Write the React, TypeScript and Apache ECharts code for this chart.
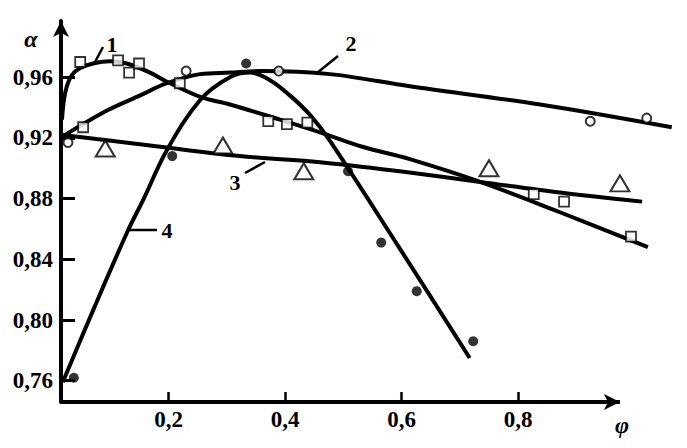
import React, { useEffect, useRef } from "react";
import * as echarts from "echarts";

// Axis tick values
const yTicks = [0.76, 0.8, 0.84, 0.88, 0.92, 0.96];
const xTicks = [0.2, 0.4, 0.6, 0.8];
const xAxisStart = 0.015;
const xAxisEnd = 0.975;
const yAxisStart = 0.746;

// Fitted curves
const curve1: number[][] = [
  [0.0167, 0.932], [0.020, 0.945], [0.025, 0.954], [0.034, 0.9615], [0.048, 0.966],
  [0.070, 0.969], [0.099, 0.9705], [0.128, 0.969], [0.168, 0.963], [0.197, 0.957],
  [0.254, 0.947], [0.305, 0.942], [0.391, 0.932], [0.465, 0.923], [0.534, 0.914],
  [0.614, 0.906], [0.735, 0.891], [0.872, 0.871], [1.023, 0.848],
];
const curve2: number[][] = [
  [0.018, 0.921], [0.094, 0.938], [0.151, 0.948], [0.197, 0.956], [0.254, 0.962],
  [0.305, 0.963], [0.357, 0.964], [0.477, 0.962], [0.614, 0.954], [0.838, 0.942],
  [1.064, 0.927],
];
const curve3: number[][] = [
  [0.015, 0.922], [0.168, 0.915], [0.322, 0.908], [0.46, 0.904], [0.597, 0.898],
  [0.735, 0.891], [0.872, 0.884], [1.013, 0.878],
];
const curve4: number[][] = [
  [0.018, 0.759], [0.073, 0.809], [0.13, 0.859], [0.156, 0.879], [0.197, 0.912],
  [0.254, 0.945], [0.305, 0.96], [0.34, 0.963], [0.374, 0.958], [0.408, 0.948],
  [0.443, 0.935], [0.477, 0.918], [0.597, 0.847], [0.717, 0.775],
];

// Experimental points
const squares: number[][] = [
  [0.048, 0.970], [0.053, 0.927], [0.113, 0.971], [0.132, 0.963], [0.149, 0.969],
  [0.219, 0.956], [0.371, 0.931], [0.403, 0.929], [0.438, 0.930], [0.827, 0.883],
  [0.879, 0.878], [0.994, 0.855],
];
const circles: number[][] = [
  [0.027, 0.917], [0.230, 0.964], [0.389, 0.964], [0.924, 0.931], [1.021, 0.933],
];
const triangles: number[][] = [
  [0.091, 0.913], [0.293, 0.915], [0.432, 0.898], [0.750, 0.900], [0.975, 0.890],
];
const dots: number[][] = [
  [0.037, 0.762], [0.206, 0.908], [0.333, 0.969], [0.508, 0.898], [0.565, 0.851],
  [0.626, 0.819], [0.723, 0.786],
];

const FONT = '"Liberation Serif", "Times New Roman", serif';

export default function App() {
  const ref = useRef<HTMLDivElement>(null);
  useEffect(() => {
    if (!ref.current) return;
    const chart = echarts.init(ref.current, undefined, { renderer: "svg" });
    const lineSeries = (data: number[][]) => ({
      type: "line",
      data,
      showSymbol: false,
      smooth: 0.35,
      clip: false,
      lineStyle: { color: "#000", width: 4 },
      z: 2,
    });
    const textEl = (x: number, y: number, text: string, italic = false, size = 22) => ({
      type: "text",
      x,
      y,
      style: {
        text,
        font: `${italic ? "italic " : ""}bold ${size}px ${FONT}`,
        fill: "#000",
        align: "center",
        verticalAlign: "middle",
      },
    });
    const leader = (x1: number, y1: number, x2: number, y2: number) => ({
      type: "line",
      shape: { x1, y1, x2, y2 },
      style: { stroke: "#000", lineWidth: 2.5 },
    });
    const option: any = {
      animation: false,
      backgroundColor: "#fff",
      grid: { left: 61, right: 10, top: 21, bottom: 46, containLabel: false },
      xAxis: {
        type: "value",
        min: xAxisStart,
        max: 1.073,
        splitLine: { show: false },
        axisLine: { show: false },
        axisTick: {
          show: true,
          inside: true,
          length: 10,
          lineStyle: { color: "#000", width: 2.5 },
          customValues: xTicks,
        },
        axisLabel: {
          customValues: xTicks,
          color: "#000",
          fontFamily: FONT,
          fontWeight: "bold",
          fontSize: 23,
          margin: 6,
          formatter: (v: number) => v.toFixed(1).replace(".", ","),
        },
      },
      yAxis: {
        type: "value",
        min: yAxisStart,
        max: 0.997,
        splitLine: { show: false },
        axisLine: {
          show: true,
          lineStyle: { color: "#000", width: 4 },
          symbol: ["none", "arrow"],
          symbolSize: [12, 16],
        },
        axisTick: {
          show: true,
          inside: true,
          length: 14,
          lineStyle: { color: "#000", width: 3 },
          customValues: yTicks,
        },
        axisLabel: {
          customValues: yTicks,
          color: "#000",
          fontFamily: FONT,
          fontWeight: "bold",
          fontSize: 23,
          margin: 8,
          formatter: (v: number) => v.toFixed(2).replace(".", ","),
        },
      },
      series: [
        {
          type: "line",
          data: [],
          clip: false,
          silent: true,
          markLine: {
            silent: true,
            symbol: ["none", "arrow"],
            symbolSize: [12, 16],
            label: { show: false },
            lineStyle: { color: "#000", width: 4, type: "solid" },
            emphasis: { disabled: true },
            data: [[{ coord: [xAxisStart, yAxisStart] }, { coord: [xAxisEnd, yAxisStart] }]],
          },
        },
        lineSeries(curve1),
        lineSeries(curve2),
        lineSeries(curve3),
        lineSeries(curve4),
        {
          type: "scatter",
          data: squares,
          symbol: "rect",
          symbolSize: 10,
          clip: false,
          itemStyle: { color: "#fff", borderColor: "#000", borderWidth: 1.8 },
          z: 3,
        },
        {
          type: "scatter",
          data: circles,
          symbol: "circle",
          symbolSize: 9,
          clip: false,
          itemStyle: { color: "#fff", borderColor: "#000", borderWidth: 2 },
          z: 3,
        },
        {
          type: "scatter",
          data: triangles,
          symbol: "triangle",
          symbolSize: [19, 16],
          clip: false,
          itemStyle: { color: "#fff", borderColor: "#000", borderWidth: 2 },
          z: 3,
        },
        {
          type: "scatter",
          data: dots,
          symbol: "circle",
          symbolSize: 10,
          clip: false,
          itemStyle: { color: "#000" },
          z: 3,
        },
      ],
      graphic: [
        textEl(31, 39, "α", true, 24),
        textEl(622, 425, "φ", true, 24),
        textEl(112, 44, "1"),
        textEl(351, 43, "2"),
        textEl(235, 182, "3"),
        textEl(167, 230, "4"),
        leader(95, 62, 103, 47),
        leader(317, 73, 338, 56),
        leader(245, 173, 265, 162),
        leader(128, 230, 157, 230),
      ],
    };
    chart.setOption(option);
    return () => chart.dispose();
  }, []);
  return (
    <div
      ref={ref}
      style={{ position: "fixed", left: 0, top: 0, width: 687, height: 448, background: "#fff" }}
    />
  );
}
